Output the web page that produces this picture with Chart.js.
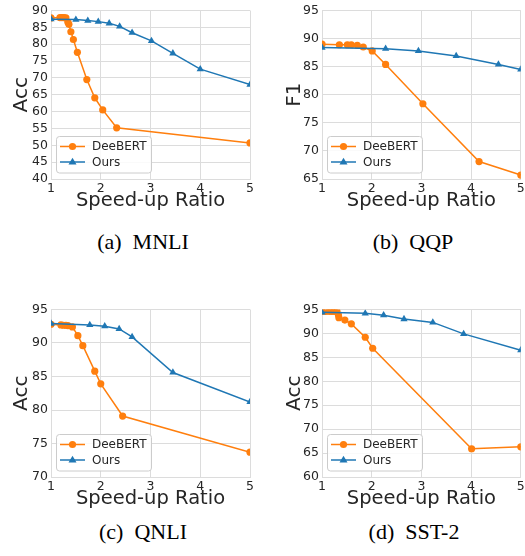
<!DOCTYPE html>
<html>
<head>
<meta charset="utf-8">
<script src="https://cdn.jsdelivr.net/npm/chart.js@4/dist/chart.umd.min.js"></script>
<style>
  body { margin: 0; background: #fff; }
  #wrap { position: relative; width: 525px; height: 556px; overflow: hidden; }
  canvas { position: absolute; }
  .cap { position: absolute; font-family: "Liberation Serif", "DejaVu Serif", serif; font-size: 22px;
         line-height: 22px; color: #000; text-align: center; width: 200px; white-space: pre; }
</style>
</head>
<body>
<div id="wrap">
  <canvas id="mnli" width="262" height="220" style="left:0;top:0"></canvas>
  <canvas id="qqp" width="263" height="220" style="left:262px;top:0"></canvas>
  <canvas id="qnli" width="262" height="219" style="left:0;top:299px"></canvas>
  <canvas id="sst2" width="263" height="219" style="left:262px;top:299px"></canvas>
  <div class="cap" style="left:43px;top:231px">(a)  MNLI</div>
  <div class="cap" style="left:313px;top:231px">(b)  QQP</div>
  <div class="cap" style="left:43px;top:521px">(c)  QNLI</div>
  <div class="cap" style="left:314px;top:521px">(d)  SST-2</div>
</div>
<script>
const xTicks = [1, 2, 3, 4, 5];

const mnliTicks = [40, 45, 50, 55, 60, 65, 70, 75, 80, 85, 90];
const mnliDeeX = [1.0, 1.18, 1.22, 1.26, 1.30, 1.34, 1.36, 1.40, 1.45, 1.53, 1.72, 1.88, 2.04, 2.32, 5.0];
const mnliDeeY = [87.8, 87.9, 87.9, 87.9, 87.8, 86.5, 85.9, 83.7, 81.4, 77.6, 69.5, 64.1, 60.5, 55.2, 50.7];
const mnliOursX = [1.0, 1.50, 1.74, 1.95, 2.17, 2.38, 2.63, 3.02, 3.45, 4.0, 5.0];
const mnliOursY = [87.4, 87.3, 87.0, 86.7, 86.2, 85.3, 83.4, 81.0, 77.3, 72.6, 68.0];

const qqpTicks = [65, 70, 75, 80, 85, 90, 95];
const qqpDeeX = [1.0, 1.35, 1.51, 1.59, 1.71, 1.83, 2.01, 2.28, 3.03, 4.16, 5.0];
const qqpDeeY = [89.0, 88.9, 88.9, 88.9, 88.8, 88.5, 87.8, 85.4, 78.4, 68.1, 65.7];
const qqpOursX = [1.0, 2.28, 2.94, 3.7, 4.55, 5.0];
const qqpOursY = [88.4, 88.2, 87.8, 86.9, 85.4, 84.5];

const qnliTicks = [70, 75, 80, 85, 90, 95];
const qnliDeeX = [1.0, 1.2, 1.25, 1.3, 1.34, 1.43, 1.54, 1.64, 1.88, 2.0, 2.44, 5.0];
const qnliDeeY = [92.8, 92.7, 92.65, 92.65, 92.6, 92.4, 91.1, 89.6, 85.8, 83.9, 79.1, 73.7];
const qnliOursX = [1.0, 1.78, 2.08, 2.37, 2.63, 3.45, 5.0];
const qnliOursY = [92.9, 92.7, 92.5, 92.1, 90.9, 85.6, 81.2];

const sstTicks = [60, 65, 70, 75, 80, 85, 90, 95];
const sstDeeX = [1.0, 1.08, 1.15, 1.2, 1.25, 1.3, 1.33, 1.34, 1.46, 1.59, 1.87, 2.02, 4.01, 5.0];
const sstDeeY = [94.6, 94.6, 94.6, 94.6, 94.6, 94.6, 93.9, 93.3, 92.8, 92.0, 89.2, 86.9, 65.9, 66.3];
const sstOursX = [1.0, 1.87, 2.24, 2.65, 3.23, 3.85, 5.0];
const sstOursY = [94.4, 94.2, 93.8, 93.0, 92.3, 89.9, 86.5];

const seriesNames = ['DeeBERT', 'Ours'];
const orange = '#ff7f0e';
const blue = '#1f77b4';
const textColor = '#262626';
const gridColor = '#dcdcdc';

function pts(xs, ys) {
    return xs.map((x, i) => ({ x: x, y: ys[i] }));
}

function marker(ctx, style, x, y, r, color) {
    ctx.fillStyle = color;
    ctx.beginPath();
    if (style === 'circle') {
        ctx.arc(x, y, r, 0, Math.PI * 2);
    } else {
        ctx.moveTo(x, y - r);
        ctx.lineTo(x + r * 0.95, y + r * 0.6);
        ctx.lineTo(x - r * 0.95, y + r * 0.6);
        ctx.closePath();
    }
    ctx.fill();
}

// legend box in the lower-left corner of the plot
const cornerLegend = {
    id: 'cornerLegend',
    afterDraw(chart) {
        const ctx = chart.ctx;
        const area = chart.chartArea;
        const bx = area.left + 5.5, bh = 36.5, bw = 95;
        const by = area.bottom - 6 - bh;
        ctx.save();
        ctx.fillStyle = 'rgba(255,255,255,0.85)';
        ctx.strokeStyle = '#cccccc';
        ctx.lineWidth = 1;
        ctx.beginPath();
        ctx.roundRect(bx, by, bw, bh, 3);
        ctx.fill();
        ctx.stroke();
        const rows = [[seriesNames[0], orange, 'circle', 3.6], [seriesNames[1], blue, 'triangle', 4.2]];
        rows.forEach((r, i) => {
            const cy = by + 10 + i * 15.5;
            ctx.strokeStyle = r[1];
            ctx.lineWidth = 1.5;
            ctx.beginPath();
            ctx.moveTo(bx + 3.5, cy);
            ctx.lineTo(bx + 28.5, cy);
            ctx.stroke();
            marker(ctx, r[2], bx + 16, cy, r[3], r[1]);
            ctx.fillStyle = textColor;
            ctx.font = '12px "DejaVu Sans"';
            ctx.textBaseline = 'middle';
            ctx.fillText(r[0], bx + 35.5, cy + 0.5);
        });
        ctx.restore();
    }
};

function makeChart(id, yTitle, yTicks, deeX, deeY, oursX, oursY, yWidth, titlePad, padRight) {
    const ctx = document.getElementById(id).getContext('2d');
    return new Chart(ctx, {
        type: 'line',
        data: {
            datasets: [{
                label: seriesNames[0],
                data: pts(deeX, deeY),
                borderColor: orange,
                backgroundColor: orange,
                borderWidth: 1.5,
                pointStyle: 'circle',
                pointRadius: 3.6,
                pointBorderWidth: 0,
                tension: 0,
                order: 1
            },
            {
                label: seriesNames[1],
                data: pts(oursX, oursY),
                borderColor: blue,
                backgroundColor: blue,
                borderWidth: 1.5,
                pointStyle: 'triangle',
                pointRadius: 4.2,
                pointBorderWidth: 0,
                tension: 0,
                order: 0
            }]
        },
        options: {
            responsive: false,
            animation: false,
            events: [],
            layout: { padding: { top: 10.5, right: padRight, left: 0, bottom: 0 } },
            plugins: { legend: { display: false }, tooltip: { enabled: false } },
            scales: {
                x: {
                    type: 'linear',
                    min: xTicks[0],
                    max: xTicks[xTicks.length - 1],
                    afterBuildTicks(scale) {
                        scale.ticks = xTicks.map(v => ({ value: v }));
                    },
                    ticks: { autoSkip: false, color: textColor, padding: 2,
                             font: { family: 'DejaVu Sans', size: 12.5 } },
                    grid: { color: gridColor, drawTicks: false },
                    border: { color: gridColor },
                    title: { display: true, text: 'Speed-up Ratio', color: textColor,
                             font: { family: 'DejaVu Sans', size: 19.5 }, padding: { top: 0, bottom: 7 } },
                    afterFit(scale) {
                        scale.height = 41;
                        scale.paddingLeft = 0;
                        scale.paddingRight = 0;
                    }
                },
                y: {
                    min: yTicks[0],
                    max: yTicks[yTicks.length - 1],
                    afterBuildTicks(scale) {
                        scale.ticks = yTicks.map(v => ({ value: v }));
                    },
                    ticks: { autoSkip: false, color: textColor, padding: 3,
                             font: { family: 'DejaVu Sans', size: 12.5 } },
                    grid: { color: gridColor, drawTicks: false },
                    border: { color: gridColor },
                    title: { display: true, text: yTitle, color: textColor,
                             font: { family: 'DejaVu Sans', size: 20 }, padding: { top: titlePad, bottom: 0 } },
                    afterFit(scale) {
                        scale.width = yWidth;
                        scale.paddingTop = 0;
                        scale.paddingBottom = 0;
                    }
                }
            }
        },
        plugins: [cornerLegend]
    });
}

makeChart('mnli', 'Acc', mnliTicks, mnliDeeX, mnliDeeY, mnliOursX, mnliOursY, 51, 10, 12);
makeChart('qqp', 'F1', qqpTicks, qqpDeeX, qqpDeeY, qqpOursX, qqpOursY, 60, 21, 3);
makeChart('qnli', 'Acc', qnliTicks, qnliDeeX, qnliDeeY, qnliOursX, qnliOursY, 51, 10, 12);
makeChart('sst2', 'Acc', sstTicks, sstDeeX, sstDeeY, sstOursX, sstOursY, 60, 21, 3);
</script>
</body>
</html>
